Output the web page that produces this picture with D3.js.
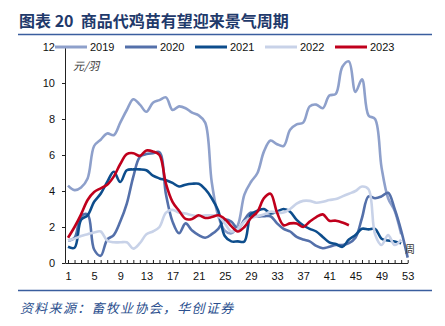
<!doctype html>
<html>

<head>
    <meta charset="utf-8">
    <style>
        body { margin: 0; background: #fff; }
        svg text { font-family: "Liberation Sans", Arial, sans-serif; }
        .cjk { font-family: "Noto Sans CJK SC", sans-serif; }
    </style>
    <script src="https://d3js.org/d3.v7.min.js"></script>
</head>

<body>
    <svg width="445" height="326"></svg>
    <script>
        var years = ["2019", "2020", "2021", "2022", "2023"]
        var colors = ["#8ea0cb", "#5470aa", "#0d4d8c", "#c8d2e8", "#c0001c"]
        var yTicks = [0, 2, 4, 6, 8, 10, 12]
        var xLabels = [1, 5, 9, 13, 17, 21, 25, 29, 33, 37, 41, 45, 49, 53]

        // weekly prices, yuan per chick
        var s2019 = [4.3, 4.05, 4.2, 4.7, 6.5, 6.85, 7.2, 7.1, 7.8, 8.5, 9.1, 8.8, 8.4, 8.9, 9.05, 9.2, 8.5, 8.7, 8.6, 8.35,
            8.2, 7.8, 4.5, 2.6, 1.8, 1.65, 2.1, 3.8, 4.5, 5.0, 6.2, 6.8, 6.6, 6.5, 7.4, 7.7, 7.8, 8.7, 8.8, 8.6,
            9.3, 9.4, 10.9, 11.2, 9.5, 10.2, 8.2, 8.0, 5.3, 3.6, 2.9, 1.6]
        var s2020 = [1.25, 1.4, 2.6, 2.7, 0.75, 0.4, 1.3, 1.55, 2.3, 3.3, 4.8, 5.9, 6.05, 6.1, 6.15, 3.8, 2.3, 1.65, 2.2, 1.8,
            1.55, 1.4, 1.6, 1.9, 2.4, 2.3, 1.9, 2.4, 2.8, 2.6, 2.6, 2.6, 2.2, 1.9, 1.75, 1.45, 1.3, 1.2, 0.95, 0.82,
            0.9, 1.0, 1.0, 1.1, 1.4, 2.5, 3.7, 3.6, 3.7, 3.9, 3.0, 1.8, 0.3]
        var s2021 = [0.9, 0.85, 2.4, 2.65, 3.4, 3.85, 4.5, 5.07, 4.5, 5.15, 5.2, 5.2, 5.15, 4.85, 4.7, 4.6, 4.45, 4.25, 4.35, 4.4,
            4.4, 4.1, 3.6, 2.9, 1.5, 1.2, 1.2, 1.2, 2.7, 2.9, 3.0, 2.75, 2.85, 3.0, 2.85, 2.4, 2.1, 1.9, 1.75, 1.45,
            1.15, 1.05, 0.9, 1.3, 1.55, 1.9, 1.87, 1.9, 1.35, 1.25, 1.2, 1.1]
        var s2022 = [1.25, 1.35, 1.5, 1.6, 1.7, 1.75, 1.25, 1.15, 1.15, 1.15, 0.8, 1.1, 1.6, 1.75, 2.0, 2.8, 2.95, 2.8, 2.75, 2.65,
            2.6, 2.65, 2.65, 2.6, 2.2, 1.75, 1.9, 2.3, 2.5, 2.6, 2.7, 2.85, 2.8, 2.8, 3.0, 3.3, 3.45, 3.45, 3.35, 3.4,
            3.5, 3.55, 3.7, 3.85, 4.0, 4.25, 4.1, 1.6, 1.0, 1.55, 1.0, 1.3]
        var s2023 = [1.4, 2.0, 2.7, 3.5, 3.95, 4.15, 4.35, 4.8, 5.5, 6.05, 6.1, 5.95, 6.25, 6.2, 6.0, 4.4, 3.4, 2.9, 2.45, 2.45,
            2.65, 2.5, 2.55, 2.65, 2.45, 2.05, 1.75, 2.0, 2.5, 2.85, 3.6, 3.85, 2.8, 2.1, 2.2, 2.2, 2.0, 2.3, 2.55, 2.7,
            2.35, 2.35, 2.25, 2.1]
        var series = [s2019, s2020, s2021, s2022, s2023]

        var svg = d3.select("svg")

        // header
        svg.append("text")
            .attr("class", "cjk")
            .attr("x", 19)
            .attr("y", 27)
            .attr("fill", "#1f3a6b")
            .style("font-size", "16px")
            .style("font-weight", "bold")
            .style("font-family", "'Noto Sans CJK SC', sans-serif")
            .attr("xml:space", "preserve")
            .text("图表 20  商品代鸡苗有望迎来景气周期")

        svg.append("line")
            .attr("x1", 18).attr("x2", 432).attr("y1", 34.5).attr("y2", 34.5)
            .attr("stroke", "#3a5e9e").attr("stroke-width", 1.5)

        var x = d3.scaleLinear().domain([0.54, 53]).range([65, 407.7]),
            y = d3.scaleLinear().domain([0, 12]).range([263, 47])

        var g = svg.append("g")

        g.append("g")
            .attr("transform", "translate(0,263)")
            .call(d3.axisBottom(x).tickValues(d3.range(1, 54))
                .tickSizeInner(-3).tickSizeOuter(0).tickPadding(9)
                .tickFormat(function (d) { return xLabels.indexOf(d) >= 0 ? d : ""; }))
            .call(function (a) {
                a.selectAll("text").style("font-size", "11px").attr("fill", "#111")
                a.selectAll("line, path").attr("stroke", "#222")
            })

        g.append("g")
            .attr("transform", "translate(65,0)")
            .call(d3.axisLeft(y).tickValues(yTicks).tickSizeInner(3).tickSizeOuter(0).tickPadding(7))
            .call(function (a) {
                a.selectAll("text").style("font-size", "11px").attr("fill", "#111")
                a.selectAll("line, path").attr("stroke", "#222")
            })

        var line = d3.line()
            .x(function (d, i) { return x(i + 1); })
            .y(function (d) { return y(d); })
            .curve(d3.curveCatmullRom)

        series.forEach(function (s, k) {
            g.append("path")
                .datum(s)
                .attr("fill", "none")
                .attr("stroke", colors[k])
                .attr("stroke-width", 2.6)
                .attr("stroke-linejoin", "round")
                .attr("d", line)
        })

        // unit labels
        g.append("text")
            .attr("class", "cjk")
            .attr("x", 73).attr("y", 70)
            .style("font-family", "'Noto Sans CJK SC', sans-serif")
            .style("font-size", "11px").style("font-style", "italic")
            .attr("fill", "#333")
            .text("元/羽")

        g.append("text")
            .attr("x", 405).attr("y", 253)
            .style("font-family", "'Noto Sans CJK SC', sans-serif")
            .style("font-size", "10px")
            .attr("fill", "#333")
            .text("周")

        // legend
        var legend = svg.append("g").attr("transform", "translate(55,47)")
        years.forEach(function (yr, k) {
            var item = legend.append("g").attr("transform", "translate(" + (k * 70) + ",0)")
            item.append("line")
                .attr("x1", 0).attr("x2", 32)
                .attr("stroke", colors[k]).attr("stroke-width", 3)
            item.append("text")
                .attr("x", 35).attr("dy", "0.35em")
                .style("font-size", "11px").attr("fill", "#111")
                .text(yr)
        })

        // footer
        svg.append("line")
            .attr("x1", 18).attr("x2", 432).attr("y1", 290.5).attr("y2", 290.5)
            .attr("stroke", "#3a5e9e").attr("stroke-width", 1.5)

        svg.append("text")
            .attr("x", 20).attr("y", 313)
            .style("font-family", "'Noto Sans CJK SC', sans-serif")
            .style("font-size", "13px").style("font-style", "italic")
            .style("letter-spacing", "1.3px")
            .attr("fill", "#2b4f8e")
            .text("资料来源：畜牧业协会，华创证券")
    </script>
</body>

</html>
